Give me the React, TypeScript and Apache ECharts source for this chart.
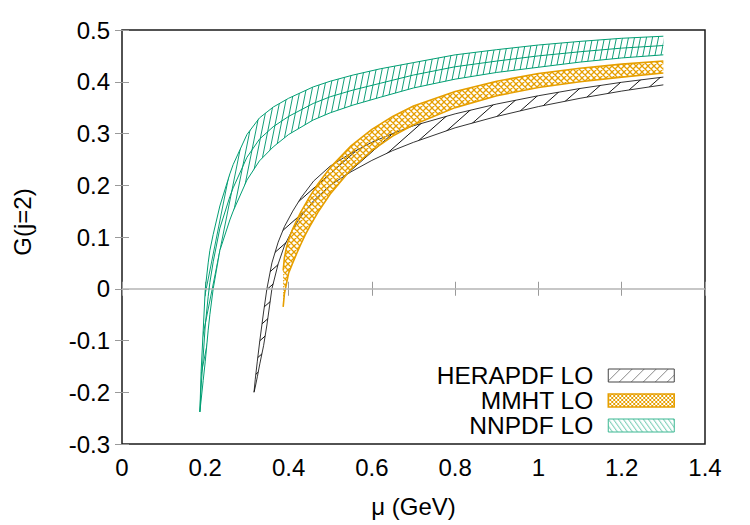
import { useEffect, useRef } from "react";
import * as echarts from "echarts";

// HERAPDF LO band: lower / upper edge of G(j=2) vs mu (GeV)
const heraX = [0.317, 0.32, 0.325, 0.331, 0.34, 0.348, 0.36, 0.375, 0.39, 0.41, 0.43, 0.46, 0.5, 0.55, 0.6, 0.65, 0.7, 0.8, 0.9, 1.0, 1.1, 1.2, 1.3];
const heraUpper = [-0.2, -0.175, -0.14, -0.1, -0.045, 0.0, 0.05, 0.09, 0.12, 0.15, 0.176, 0.208, 0.237, 0.262, 0.283, 0.3, 0.315, 0.338, 0.357, 0.373, 0.387, 0.399, 0.409];
const heraLower = [-0.2, -0.19, -0.17, -0.145, -0.11, -0.07, 0.0, 0.048, 0.083, 0.115, 0.14, 0.17, 0.2, 0.226, 0.248, 0.267, 0.283, 0.311, 0.333, 0.352, 0.368, 0.382, 0.394];

// MMHT LO band
const mmhtX = [0.387, 0.39, 0.395, 0.4, 0.41, 0.42, 0.43, 0.44, 0.45, 0.47, 0.5, 0.55, 0.6, 0.65, 0.7, 0.8, 0.9, 1.0, 1.1, 1.2, 1.3];
const mmhtUpper = [0.035, 0.06, 0.08, 0.095, 0.116, 0.133, 0.149, 0.163, 0.177, 0.202, 0.234, 0.276, 0.308, 0.333, 0.353, 0.381, 0.401, 0.416, 0.426, 0.434, 0.44];
const mmhtLower = [-0.035, -0.01, 0.01, 0.03, 0.05, 0.069, 0.087, 0.104, 0.119, 0.147, 0.183, 0.231, 0.267, 0.295, 0.317, 0.35, 0.373, 0.389, 0.4, 0.409, 0.417];

// NNPDF LO band with its central curve
const nnpdfX = [0.187, 0.19, 0.195, 0.2, 0.207, 0.211, 0.219, 0.235, 0.259, 0.267, 0.3, 0.33, 0.363, 0.4, 0.459, 0.5, 0.555, 0.62, 0.7, 0.8, 0.9, 1.0, 1.1, 1.2, 1.3];
const nnpdfUpper = [-0.238, -0.16, -0.08, 0.0, 0.05, 0.074, 0.105, 0.16, 0.222, 0.24, 0.298, 0.33, 0.351, 0.368, 0.39, 0.401, 0.413, 0.425, 0.437, 0.452, 0.462, 0.471, 0.478, 0.484, 0.488];
const nnpdfLower = [-0.238, -0.215, -0.177, -0.14, -0.08, -0.05, 0.0, 0.074, 0.133, 0.15, 0.21, 0.247, 0.274, 0.298, 0.326, 0.34, 0.355, 0.37, 0.388, 0.405, 0.418, 0.428, 0.438, 0.446, 0.452];
const nnpdfCentral = [-0.238, -0.19, -0.13, -0.07, -0.015, 0.012, 0.052, 0.117, 0.178, 0.195, 0.254, 0.289, 0.313, 0.333, 0.358, 0.371, 0.384, 0.397, 0.413, 0.429, 0.44, 0.45, 0.458, 0.465, 0.47];

const seriesNames = ["HERAPDF LO", "MMHT LO", "NNPDF LO"];
const FONT = "'Liberation Sans', Arial, sans-serif";
const BLACK = "#000000";
const ORANGE = "#e69f00";
const TEAL = "#009e73";

type Seg = [number, number, number, number];

function tile(w: number, h: number, stroke: string, lineWidth: number, segs: Seg[]) {
  const c = document.createElement("canvas");
  c.width = w;
  c.height = h;
  const ctx = c.getContext("2d")!;
  ctx.strokeStyle = stroke;
  ctx.lineWidth = lineWidth;
  ctx.beginPath();
  for (const [x1, y1, x2, y2] of segs) {
    ctx.moveTo(x1, y1);
    ctx.lineTo(x2, y2);
  }
  ctx.stroke();
  return { image: c, repeat: "repeat" as const };
}

// "/" lines: bottom-left to top-right, with neighbours so edges join seamlessly
const slash = (w: number, h: number): Seg[] => [
  [-w, h, 0, 0],
  [0, h, w, 0],
  [w, h, 2 * w, 0],
];
// "\" lines
const backslash = (w: number, h: number): Seg[] => [
  [-w, 0, 0, h],
  [0, 0, w, h],
  [w, 0, 2 * w, h],
];

const edge = (name: string, color: string, xs: number[], ys: number[], width: number, z: number) => ({
  name,
  type: "line",
  data: xs.map((x, i) => [x, ys[i]]),
  symbol: "none",
  silent: true,
  lineStyle: { color, width },
  itemStyle: { color },
  z,
});

// Hatched band between lower and upper edges, drawn as one polygon through the axis scales
function band(
  name: string,
  color: string,
  xs: number[],
  lower: number[],
  upper: number[],
  fill: any,
  width: number,
  z: number
) {
  return [
    {
      name,
      type: "custom",
      silent: true,
      z,
      itemStyle: { color },
      data: xs.map((x, i) => [x, lower[i], upper[i]]),
      encode: { x: 0, y: [1, 2] },
      renderItem: (params: any, api: any) => {
        if (params.dataIndex !== 0) return null;
        const top = xs.map((x, i) => api.coord([x, upper[i]]));
        const bottom = xs.map((x, i) => api.coord([x, lower[i]])).reverse();
        return {
          type: "polygon",
          shape: { points: top.concat(bottom) },
          style: { fill, stroke: "none" },
          silent: true,
        };
      },
    },
    edge(name + " (upper)", color, xs, upper, width, z + 0.5),
    edge(name + " (lower)", color, xs, lower, width, z + 0.5),
  ];
}

export default function App() {
  const ref = useRef<HTMLDivElement>(null);

  useEffect(() => {
    if (!ref.current) return;
    const chart = echarts.init(ref.current, null, { renderer: "svg" });

    const heraFill = tile(17, 15, "#111111", 1, slash(17, 15));
    const mmhtFill = tile(6, 6, ORANGE, 1.3, [...slash(6, 6), ...backslash(6, 6)]);
    const nnpdfFill = tile(6, 30, "#129f79", 1, slash(6, 30));

    const heraKey = tile(12, 12, "#888888", 1, slash(12, 12));
    const mmhtKey = tile(4, 4, ORANGE, 1, [...slash(4, 4), ...backslash(4, 4)]);
    const nnpdfKey = tile(5, 7, "#5cc3a5", 1, backslash(5, 7));

    const tickStyle = { inside: true, length: 7, lineStyle: { color: "#9a9a9a", width: 1 } };
    const labelStyle = { color: "#000", fontSize: 24, fontFamily: FONT };

    const option = {
      animation: false,
      backgroundColor: "#ffffff",
      grid: {
        left: 122,
        right: 45,
        top: 30,
        bottom: 81,
        show: true,
        borderColor: "#1a1a1a",
        borderWidth: 1.5,
        containLabel: false,
      },
      legend: {
        orient: "vertical",
        right: 75,
        top: 363,
        align: "right",
        selectedMode: false,
        itemWidth: 66,
        itemHeight: 13,
        itemGap: 0,
        padding: 0,
        textStyle: {
          color: "#000",
          fontSize: 24.5,
          fontFamily: FONT,
          lineHeight: 25,
          padding: [0, 10, 0, 0],
        },
        data: [
          { name: seriesNames[0], icon: "rect", itemStyle: { color: heraKey, borderColor: "#444", borderWidth: 1 } },
          { name: seriesNames[1], icon: "rect", itemStyle: { color: mmhtKey, borderColor: ORANGE, borderWidth: 1.5 } },
          { name: seriesNames[2], icon: "rect", itemStyle: { color: nnpdfKey, borderColor: "#3db893", borderWidth: 1 } },
        ],
      },
      xAxis: [
        {
          type: "value",
          min: 0,
          max: 1.4,
          interval: 0.2,
          position: "bottom",
          axisLine: { show: false },
          axisTick: tickStyle,
          axisLabel: { ...labelStyle, margin: 11 },
          splitLine: { show: false },
          name: "μ (GeV)",
          nameLocation: "middle",
          nameGap: 50,
          nameTextStyle: { color: "#000", fontSize: 24, fontFamily: FONT },
        },
        {
          type: "value",
          min: 0,
          max: 1.4,
          interval: 0.2,
          position: "top",
          axisLine: { show: false },
          axisTick: tickStyle,
          axisLabel: { show: false },
          splitLine: { show: false },
        },
      ],
      yAxis: [
        {
          type: "value",
          min: -0.3,
          max: 0.5,
          interval: 0.1,
          position: "left",
          axisLine: { show: false },
          axisTick: tickStyle,
          axisLabel: { ...labelStyle, margin: 12 },
          splitLine: { show: false },
          name: "G(j=2)",
          nameLocation: "middle",
          nameGap: 88,
          nameTextStyle: { color: "#000", fontSize: 24, fontFamily: FONT, padding: [0, 0, 0, 30] },
        },
        {
          type: "value",
          min: -0.3,
          max: 0.5,
          interval: 0.1,
          position: "right",
          axisLine: { show: false },
          axisTick: tickStyle,
          axisLabel: { show: false },
          splitLine: { show: false },
        },
      ],
      series: [
        {
          name: "zero",
          type: "line",
          data: [],
          silent: true,
          markLine: {
            silent: true,
            symbol: "none",
            label: { show: false },
            lineStyle: { color: "#b5b5b5", width: 1.5, type: "solid" },
            data: [{ yAxis: 0 }],
          },
          z: 1,
        },
        ...band(seriesNames[0], BLACK, heraX, heraLower, heraUpper, heraFill, 0.8, 2),
        ...band(seriesNames[1], ORANGE, mmhtX, mmhtLower, mmhtUpper, mmhtFill, 1.6, 3),
        ...band(seriesNames[2], TEAL, nnpdfX, nnpdfLower, nnpdfUpper, nnpdfFill, 1, 4),
        edge("NNPDF LO (central)", TEAL, nnpdfX, nnpdfCentral, 1, 5),
      ],
    };

    chart.setOption(option as any);
    return () => chart.dispose();
  }, []);

  return (
    <div
      ref={ref}
      style={{ position: "fixed", left: 0, top: 0, width: 750, height: 525, background: "#fff" }}
    />
  );
}
